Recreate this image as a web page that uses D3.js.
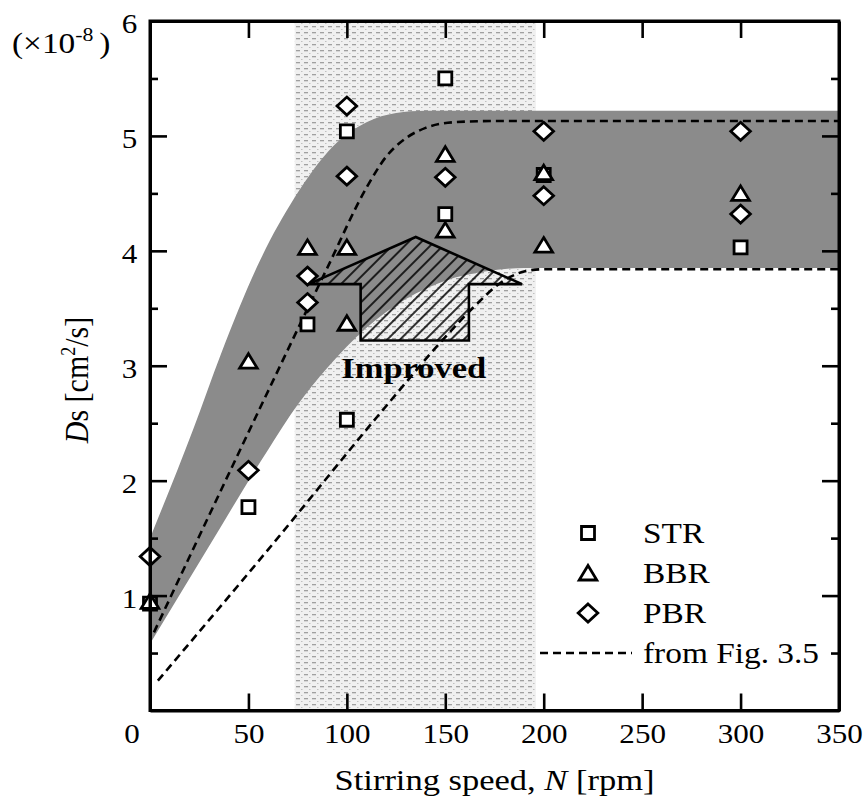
<!DOCTYPE html>
<html><head><meta charset="utf-8">
<script src="https://cdn.jsdelivr.net/npm/d3@7"></script>
<style>body{margin:0;background:#fff}svg{display:block}
svg text{font-family:'Liberation Serif','Times New Roman',Times,serif;}</style>
</head><body><svg id="c" width="868" height="803"></svg>
<script>
// ---------- data ----------
const xTicks = [0, 50, 100, 150, 200, 250, 300, 350];
const yTicks = [1, 2, 3, 4, 5, 6];
const yMinor = [0.5, 1.5, 2.5, 3.5, 4.5, 5.5];

const N_STR  = [0, 50, 80, 100, 100, 150, 150, 200, 300];
const DS_STR = [0.93, 1.77, 3.36, 5.04, 2.53, 5.50, 4.32, 4.66, 4.03];
const N_BBR  = [0, 50, 80, 100, 100, 150, 150, 200, 200, 300];
const DS_BBR = [0.95, 3.04, 4.03, 4.03, 3.37, 4.84, 4.18, 4.68, 4.05, 4.50];
const N_PBR  = [0, 50, 80, 80, 100, 100, 150, 200, 200, 300, 300];
const DS_PBR = [1.34, 2.09, 3.78, 3.55, 5.26, 4.65, 4.64, 5.04, 4.48, 5.04, 4.32];

// grey range band (upper / lower edge)
const BAND_UP_N  = [0, 22, 36, 56, 73, 93, 110, 125, 140, 350];
const BAND_UP_DS = [1.5, 2.45, 3.1, 3.92, 4.45, 4.91, 5.12, 5.2, 5.22, 5.22];
const BAND_LO_N  = [0, 30, 60, 75, 90, 110, 130, 150, 170, 190, 350];
const BAND_LO_DS = [0.58, 1.43, 2.27, 2.66, 2.98, 3.33, 3.58, 3.74, 3.82, 3.85, 3.85];

// dashed lines "from Fig. 3.5"
const FIG_UP_N  = [2, 50, 90, 110, 120, 130, 140, 155, 175, 350];
const FIG_UP_DS = [0.68, 2.42, 3.85, 4.55, 4.82, 4.98, 5.07, 5.12, 5.13, 5.13];
const FIG_LO_N  = [4, 60, 120, 150, 165, 178, 190, 200, 350];
const FIG_LO_DS = [0.26, 1.4, 2.65, 3.25, 3.52, 3.72, 3.82, 3.84, 3.84];

// dotted N range
const DOT_RANGE = [73.5, 196];

// "Improved" arrow outline (N, Ds)
const ARROW_N  = [80.5, 135, 189, 162, 162, 107, 107];
const ARROW_DS = [3.71, 4.12, 3.71, 3.71, 3.22, 3.22, 3.71];

const LEGEND = ["STR", "BBR", "PBR", "from Fig. 3.5"];

// ---------- setup ----------
const svg = d3.select("#c").style("font-family", "'Liberation Serif','Times New Roman',serif");
const X0 = 150, X1 = 839, Y0 = 710.5, Y1 = 21;
const x = d3.scaleLinear().domain([0, 350]).range([X0, X1]);
const y = d3.scaleLinear().domain([0, 6]).range([Y0, Y1]);
const K = 1.15; // horizontal stretch of lettering

const defs = svg.append("defs");
const dots = defs.append("pattern").attr("id", "dots").attr("patternUnits", "userSpaceOnUse")
  .attr("width", 8).attr("height", 6);
dots.append("rect").attr("width", 8).attr("height", 6).attr("fill", "#f0f0f0");
dots.append("rect").attr("x", 0).attr("y", 2).attr("width", 4).attr("height", 1.3).attr("fill", "#a0a0a0");
dots.append("rect").attr("x", 5).attr("y", 5).attr("width", 1.5).attr("height", 1).attr("fill", "#c0c0c0");

const hatch = defs.append("pattern").attr("id", "hatch").attr("patternUnits", "userSpaceOnUse")
  .attr("width", 9).attr("height", 9).attr("patternTransform", "rotate(45)");
hatch.append("line").attr("x1", 1).attr("y1", 0).attr("x2", 1).attr("y2", 9)
  .attr("stroke", "#000").attr("stroke-width", 1.6);

const zip = (a, b) => a.map((v, i) => [v, b[i]]);

// dotted region
svg.append("rect").attr("x", x(DOT_RANGE[0])).attr("y", Y1)
  .attr("width", x(DOT_RANGE[1]) - x(DOT_RANGE[0])).attr("height", Y0 - Y1)
  .attr("fill", "url(#dots)");

// grey band = (below upper edge) ∩ (above lower edge)
const underUp = d3.area().x(d => x(d[0])).y0(Y0).y1(d => y(d[1])).curve(d3.curveMonotoneX);
const aboveLo = d3.area().x(d => x(d[0])).y0(d => y(d[1])).y1(Y1).curve(d3.curveMonotoneX);
defs.append("clipPath").attr("id", "clipUp").append("path")
  .attr("d", underUp(zip(BAND_UP_N, BAND_UP_DS)));
svg.append("path").attr("d", aboveLo(zip(BAND_LO_N, BAND_LO_DS)))
  .attr("clip-path", "url(#clipUp)").attr("fill", "#8b8b8b");

// dashed lines
const line = d3.line().x(d => x(d[0])).y(d => y(d[1])).curve(d3.curveMonotoneX);
[zip(FIG_UP_N, FIG_UP_DS), zip(FIG_LO_N, FIG_LO_DS)].forEach(pts => {
  svg.append("path").attr("d", line(pts)).attr("fill", "none")
    .attr("stroke", "#000").attr("stroke-width", 2.6).attr("stroke-dasharray", "8,5");
});

// arrow
svg.append("path")
  .attr("d", d3.line().x(d => x(d[0])).y(d => y(d[1])).curve(d3.curveLinearClosed)(zip(ARROW_N, ARROW_DS)))
  .attr("fill", "url(#hatch)").attr("stroke", "#000").attr("stroke-width", 2.6)
  .attr("stroke-linejoin", "miter");

function stretchedText(g, tx, ty, str, size, anchor, weight) {
  return g.append("text").attr("transform", `translate(${tx},${ty}) scale(${K},1)`)
    .attr("text-anchor", anchor).attr("font-size", size)
    .attr("font-weight", weight || "normal").attr("fill", "#000").text(str);
}
stretchedText(svg, x(134), y(2.895), "Improved", 30, "middle", "bold");

// markers
const shapes = {
  square: "M-6.5,-6.5H6.5V6.5H-6.5Z",
  triangle: "M0,-7.5L8.8,7L-8.8,7Z",
  diamond: "M0,-9L9.8,0L0,9L-9.8,0Z"
};
function drawMarkers(Ns, Ds, shape) {
  svg.append("g").selectAll("path").data(zip(Ns, Ds)).join("path")
    .attr("transform", d => `translate(${x(d[0])},${y(d[1])})`)
    .attr("d", shapes[shape]).attr("fill", "#fff").attr("stroke", "#000")
    .attr("stroke-width", 2.8).attr("stroke-linejoin", "miter");
}
drawMarkers(N_STR, DS_STR, "square");
drawMarkers(N_BBR, DS_BBR, "triangle");
drawMarkers(N_PBR, DS_PBR, "diamond");

// legend
const lg = svg.append("g");
const legShapes = ["square", "triangle", "diamond"];
legShapes.forEach((s, i) => {
  lg.append("path").attr("transform", `translate(588,${533 + i * 40})`).attr("d", shapes[s])
    .attr("fill", "#fff").attr("stroke", "#000").attr("stroke-width", 2.8);
});
lg.append("line").attr("x1", 540).attr("x2", 632).attr("y1", 653).attr("y2", 653)
  .attr("stroke", "#000").attr("stroke-width", 2.6).attr("stroke-dasharray", "8,5");
LEGEND.forEach((t, i) => stretchedText(lg, 643, 543 + i * 40, t, 29, "start"));

// axes
function styleAxis(g) {
  g.attr("font-family", null);
  g.selectAll(".domain").attr("stroke", "#000").attr("stroke-width", 3);
  g.selectAll(".tick line").attr("stroke", "#000").attr("stroke-width", 2.6);
  g.selectAll(".tick text").attr("font-size", 27).attr("fill", "#000");
}
const gb = svg.append("g").attr("transform", `translate(0,${Y0})`)
  .call(d3.axisBottom(x).tickValues(xTicks).tickSizeInner(-17).tickSizeOuter(0).tickPadding(13).tickFormat(d3.format("d")));
styleAxis(gb);
gb.selectAll(".tick text").attr("transform", `scale(${K},1)`)
  .filter(d => d === 0).attr("x", -16);
gb.selectAll(".tick").filter(d => d === 0 || d === 350).select("line").remove();

const gt = svg.append("g").attr("transform", `translate(0,${Y1})`)
  .call(d3.axisTop(x).tickValues(xTicks.slice(1, -1)).tickSizeInner(-17).tickSizeOuter(0).tickFormat(""));
styleAxis(gt);

const gl = svg.append("g").attr("transform", `translate(${X0},0)`)
  .call(d3.axisLeft(y).tickValues(yTicks).tickSizeInner(-17).tickSizeOuter(0).tickPadding(11).tickFormat(d3.format("d")));
styleAxis(gl);
gl.selectAll(".tick text").attr("dy", "0.44em").attr("transform", `scale(${K},1)`);
gl.selectAll(".tick").filter(d => d === 6).select("line").remove();
const glm = svg.append("g").attr("transform", `translate(${X0},0)`)
  .call(d3.axisLeft(y).tickValues(yMinor).tickSize(-8).tickFormat(""));
styleAxis(glm); glm.select(".domain").remove();

const gr = svg.append("g").attr("transform", `translate(${X1},0)`)
  .call(d3.axisRight(y).tickValues(yTicks.slice(0, -1)).tickSizeInner(-17).tickSizeOuter(0).tickFormat(""));
styleAxis(gr);
const grm = svg.append("g").attr("transform", `translate(${X1},0)`)
  .call(d3.axisRight(y).tickValues(yMinor).tickSize(-8).tickFormat(""));
styleAxis(grm); grm.select(".domain").remove();

svg.append("rect").attr("x", X0).attr("y", Y1).attr("width", X1 - X0).attr("height", Y0 - Y1)
  .attr("fill", "none").attr("stroke", "#000").attr("stroke-width", 3);

// axis titles
const xt = svg.append("text").attr("transform", `translate(${(X0 + X1) / 2},790) scale(${K},1)`)
  .attr("text-anchor", "middle").attr("font-size", 30).attr("fill", "#000");
xt.append("tspan").text("Stirring speed, ");
xt.append("tspan").attr("font-style", "italic").text("N");
xt.append("tspan").text(" [rpm]");

const yt = svg.append("text").attr("transform", `translate(88,380) rotate(-90) scale(1,${K})`)
  .attr("text-anchor", "middle").attr("font-size", 30).attr("fill", "#000");
yt.append("tspan").attr("font-style", "italic").text("D");
yt.append("tspan").text("s [cm");
yt.append("tspan").attr("font-size", 18).attr("dy", -11).text("2");
yt.append("tspan").attr("dy", 11).text("/s]");

const ex = svg.append("text").attr("transform", `translate(12,53) scale(${K},1)`)
  .attr("font-size", 29).attr("fill", "#000");
ex.append("tspan").text("(×10");
ex.append("tspan").attr("font-size", 19).attr("dy", -12).text("-8");
ex.append("tspan").attr("dy", 12).attr("dx", 5).text(")");
</script></body></html>
